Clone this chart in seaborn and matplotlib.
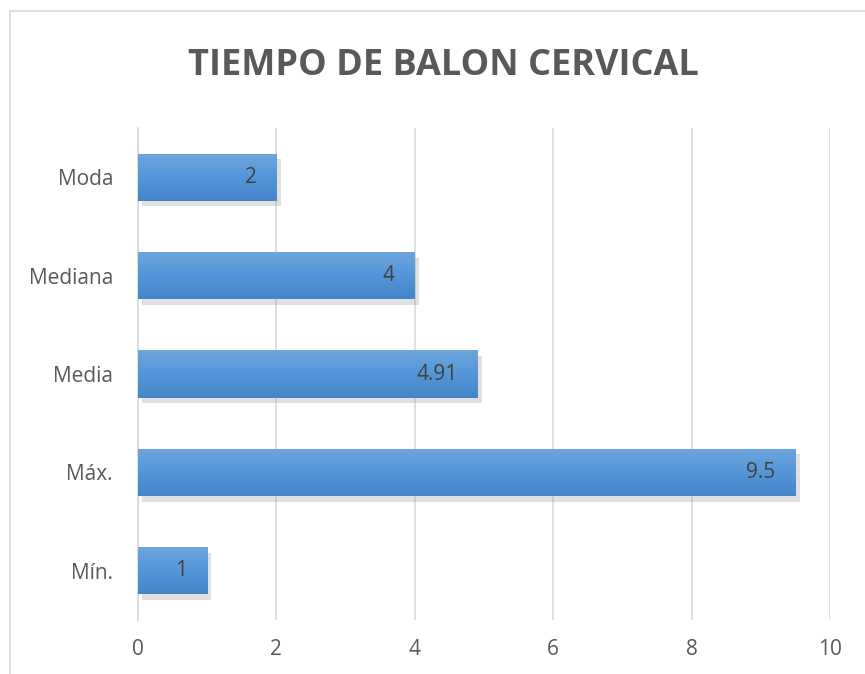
import numpy as np
import pandas as pd
import matplotlib
matplotlib.use("Agg")
import matplotlib.pyplot as plt
import matplotlib.patheffects as pe
from matplotlib.lines import Line2D
import seaborn as sns

categories = ["Moda", "Mediana", "Media", "Máx.", "Mín."]
values = [2, 4, 4.91, 9.5, 1]
x_ticks = [0, 2, 4, 6, 8, 10]
title = "TIEMPO DE BALON CERVICAL"

df = pd.DataFrame({"estadistico": categories, "valor": values})

sns.set_style("white")
plt.rcParams["font.family"] = ["Open Sans", "DejaVu Sans"]

fig = plt.figure(figsize=(8.65, 6.74), dpi=100)
ax = fig.add_axes([138 / 865, 1 - 620 / 674, (830 - 138) / 865, (620 - 128) / 674])

sns.barplot(data=df, x="valor", y="estadistico", orient="h", color="#5b9bd5",
            width=0.48, ax=ax, zorder=3)

# gradient fill + soft shadow like the Excel original
grad = np.linspace(0, 1, 100).reshape(-1, 1)
cmap = matplotlib.colors.LinearSegmentedColormap.from_list("bar", ["#6ea6de", "#5496d8", "#4385c8"])
for p in ax.patches:
    p.set_path_effects([pe.SimplePatchShadow(offset=(3, -4), shadow_rgbFace="#9a9a9a", alpha=0.3),
                        pe.Normal()])
    p.set_edgecolor("none")
    x0, y0 = p.get_x(), p.get_y()
    w, h = p.get_width(), p.get_height()
    im = ax.imshow(grad, extent=[x0, x0 + w, y0, y0 + h], aspect="auto",
                   cmap=cmap, origin="lower", zorder=4)
    im.set_clip_path(p)

for i, v in enumerate(values):
    ax.annotate(f"{v:g}", xy=(v, i), xytext=(-20, 0), textcoords="offset pixels",
                ha="right", va="center", fontsize=15, color="#404040", zorder=5)

ax.set_xlim(0, 10)
ax.set_ylim(4.5, -0.5)
ax.set_xticks(x_ticks)
ax.set_xticklabels([str(t) for t in x_ticks])
ax.grid(axis="x", color="#d9d9d9", linewidth=1.2, zorder=0)
ax.grid(axis="y", visible=False)
for s in ["top", "right", "bottom"]:
    ax.spines[s].set_visible(False)
ax.spines["left"].set_color("#d9d9d9")
ax.spines["left"].set_linewidth(1.2)
ax.tick_params(axis="both", length=0, labelsize=15, labelcolor="#595959")
ax.tick_params(axis="x", pad=14)
ax.tick_params(axis="y", pad=18)
ax.set_xlabel("")
ax.set_ylabel("")

fig.text(0.512, 1 - 66 / 674, title, ha="center", va="center", fontsize=26,
         fontweight="bold", color="#595959")

# chart area border (left and top only visible)
fig.add_artist(Line2D([10 / 865, 10 / 865], [0, 1 - 11 / 674], transform=fig.transFigure,
                      color="#d9d9d9", linewidth=1.2))
fig.add_artist(Line2D([10 / 865, 1], [1 - 11 / 674, 1 - 11 / 674], transform=fig.transFigure,
                      color="#d9d9d9", linewidth=1.2))

fig.savefig("out.png", dpi=100, facecolor="white")
